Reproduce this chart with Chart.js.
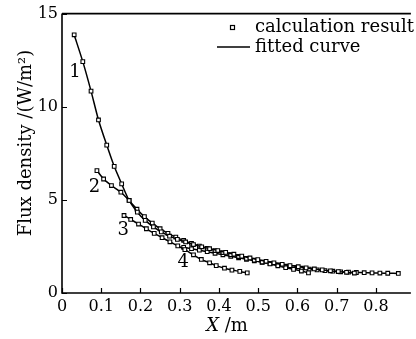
<!DOCTYPE html>
<html>
<head>
<meta charset="utf-8">
<script src="https://cdn.jsdelivr.net/npm/chart.js@4.4.0/dist/chart.umd.min.js"></script>
<style>
  html, body { margin: 0; padding: 0; background: #fff; overflow: hidden; }
  #wrap { width: 416px; height: 339px; }
</style>
</head>
<body>
<div id="wrap"><canvas id="fluxChart" width="416" height="339"></canvas></div>
<script>
// tick labels
const xTicks = [0, 0.1, 0.2, 0.3, 0.4, 0.5, 0.6, 0.7, 0.8];
const yTicks = [0, 5, 10, 15];

// curve 1
const curve1X = [0.031, 0.053, 0.074, 0.093, 0.114, 0.133, 0.152, 0.171, 0.192, 0.212, 0.233, 0.253, 0.274, 0.294,
                 0.315, 0.335, 0.356, 0.376, 0.397, 0.417, 0.438, 0.458, 0.479, 0.499, 0.520, 0.540, 0.561, 0.581,
                 0.602, 0.622, 0.643, 0.663, 0.684, 0.704, 0.725, 0.745];
const curve1Y = [13.86, 12.42, 10.84, 9.29, 7.94, 6.80, 5.86, 4.97, 4.34, 3.90, 3.55, 3.28, 3.05, 2.88,
                 2.74, 2.60, 2.48, 2.38, 2.28, 2.18, 2.08, 1.98, 1.88, 1.79, 1.70, 1.62, 1.54, 1.47,
                 1.41, 1.35, 1.29, 1.24, 1.19, 1.15, 1.11, 1.07];
// curve 2
const curve2X = [0.089, 0.106, 0.126, 0.150, 0.171, 0.191, 0.210, 0.230, 0.250, 0.270, 0.290, 0.310, 0.330, 0.350,
                 0.370, 0.390, 0.410, 0.430, 0.450, 0.470, 0.490, 0.510, 0.530, 0.550, 0.570, 0.590, 0.610, 0.628];
const curve2Y = [6.57, 6.12, 5.77, 5.41, 4.97, 4.50, 4.10, 3.75, 3.45, 3.20, 3.00, 2.82, 2.66, 2.52,
                 2.40, 2.28, 2.17, 2.06, 1.96, 1.86, 1.76, 1.66, 1.56, 1.46, 1.36, 1.27, 1.18, 1.08];
// curve 3
const curve3X = [0.158, 0.175, 0.195, 0.215, 0.235, 0.255, 0.275, 0.295, 0.313, 0.335, 0.355, 0.376, 0.393,
                 0.414, 0.433, 0.453, 0.472];
const curve3Y = [4.16, 3.95, 3.70, 3.45, 3.20, 2.97, 2.75, 2.53, 2.33, 2.05, 1.80, 1.62, 1.47,
                 1.33, 1.23, 1.16, 1.08];
// curve 4
const curve4X = [0.310, 0.330, 0.350, 0.370, 0.390, 0.410, 0.430, 0.450, 0.470, 0.490, 0.510, 0.530, 0.550, 0.570,
                 0.590, 0.610, 0.630, 0.650, 0.670, 0.690, 0.710, 0.730, 0.750, 0.770, 0.790, 0.810, 0.830, 0.857];
const curve4Y = [2.45, 2.38, 2.30, 2.22, 2.13, 2.05, 1.97, 1.89, 1.81, 1.73, 1.65, 1.58, 1.51, 1.44,
                 1.38, 1.33, 1.28, 1.24, 1.20, 1.17, 1.14, 1.12, 1.10, 1.09, 1.08, 1.07, 1.06, 1.05];

const curveNames = ['1', '2', '3', '4'];
const curveLabelX = [0.033, 0.083, 0.156, 0.309];
const curveLabelY = [11.85, 5.66, 3.36, 1.66];
const legendLabels = ['calculation result', 'fitted curve'];

const FONT = '"DejaVu Serif", "Liberation Serif", serif';

function toPoints(xs, ys) {
    return xs.map((x, i) => ({ x: x, y: ys[i] }));
}

function curveDataset(name, xs, ys) {
    return {
        label: name,
        data: toPoints(xs, ys),
        showLine: true,
        borderColor: '#000',
        borderWidth: 1.5,
        tension: 0.25,
        pointStyle: 'rect',
        pointRadius: 2.6,
        pointBorderWidth: 1.1,
        pointBackgroundColor: '#fff',
        pointBorderColor: '#000'
    };
}

// frame, inward ticks, axis titles, curve numbers and legend
const decorPlugin = {
    id: 'decor',
    afterDatasetsDraw(chart) {
        const ctx = chart.ctx;
        const area = chart.chartArea;
        const xs = chart.scales.x;
        const ys = chart.scales.y;
        ctx.save();
        ctx.strokeStyle = '#000';
        ctx.lineWidth = 1.6;
        ctx.beginPath();
        ctx.moveTo(area.left, area.top);
        ctx.lineTo(area.right, area.top);
        ctx.moveTo(area.left, area.top);
        ctx.lineTo(area.left, area.bottom);
        ctx.lineTo(area.right, area.bottom);
        ctx.stroke();

        ctx.lineWidth = 1.2;
        ctx.beginPath();
        xTicks.forEach(v => {
            const px = Math.round(xs.getPixelForValue(v)) + 0.5;
            ctx.moveTo(px, area.bottom);
            ctx.lineTo(px, area.bottom - 5);
        });
        yTicks.forEach(v => {
            const py = Math.round(ys.getPixelForValue(v)) + 0.5;
            ctx.moveTo(area.left, py);
            ctx.lineTo(area.left + 5, py);
        });
        ctx.stroke();

        ctx.fillStyle = '#000';
        ctx.textBaseline = 'middle';

        // curve numbers
        ctx.font = '18px ' + FONT;
        ctx.textAlign = 'center';
        curveNames.forEach((n, i) => {
            ctx.fillText(n, xs.getPixelForValue(curveLabelX[i]), ys.getPixelForValue(curveLabelY[i]));
        });

        // x title: italic X then /m
        ctx.textAlign = 'left';
        ctx.font = 'italic 18px ' + FONT;
        const xW = ctx.measureText('X').width;
        ctx.font = '18px ' + FONT;
        const mW = ctx.measureText(' /m').width;
        const sx = 227 - (xW + mW) / 2;
        ctx.font = 'italic 18px ' + FONT;
        ctx.fillText('X', sx, 326);
        ctx.font = '18px ' + FONT;
        ctx.fillText(' /m', sx + xW, 326);

        // y title
        ctx.save();
        ctx.translate(26, 143);
        ctx.rotate(-Math.PI / 2);
        ctx.textAlign = 'center';
        ctx.font = '18px ' + FONT;
        ctx.fillText('Flux density /(W/m\u00B2)', 0, 0);
        ctx.restore();

        // legend
        ctx.font = '18px ' + FONT;
        ctx.textAlign = 'left';
        ctx.lineWidth = 1.2;
        ctx.fillStyle = '#fff';
        ctx.fillRect(230, 25, 4, 4);
        ctx.strokeRect(230.5, 25.5, 4, 4);
        ctx.fillStyle = '#000';
        ctx.fillText(legendLabels[0], 255, 27);
        ctx.lineWidth = 1.6;
        ctx.beginPath();
        ctx.moveTo(217, 47);
        ctx.lineTo(250, 47);
        ctx.stroke();
        ctx.fillText(legendLabels[1], 255, 47);
        ctx.restore();
    }
};

new Chart(document.getElementById('fluxChart').getContext('2d'), {
    type: 'scatter',
    data: {
        datasets: [
            curveDataset(curveNames[0], curve1X, curve1Y),
            curveDataset(curveNames[1], curve2X, curve2Y),
            curveDataset(curveNames[2], curve3X, curve3Y),
            curveDataset(curveNames[3], curve4X, curve4Y)
        ]
    },
    options: {
        responsive: false,
        devicePixelRatio: 1,
        animation: false,
        layout: { padding: { top: 12, left: 0, right: 0, bottom: 0 } },
        plugins: {
            legend: { display: false },
            tooltip: { enabled: false }
        },
        scales: {
            x: {
                type: 'linear',
                min: 0,
                max: 0.889,
                grid: { display: false, drawTicks: false },
                border: { display: false },
                afterBuildTicks: (scale) => { scale.ticks = xTicks.map(v => ({ value: v })); },
                afterFit: (scale) => { scale.height = 46; },
                ticks: {
                    color: '#000',
                    font: { family: FONT, size: 16 },
                    padding: 4,
                    maxRotation: 0,
                    autoSkip: false,
                    callback: (v) => String(v)
                }
            },
            y: {
                min: 0,
                max: 15,
                grid: { display: false, drawTicks: false },
                border: { display: false },
                afterBuildTicks: (scale) => { scale.ticks = yTicks.map(v => ({ value: v })); },
                afterFit: (scale) => { scale.width = 62; },
                ticks: {
                    color: '#000',
                    font: { family: FONT, size: 16 },
                    padding: 4,
                    callback: (v) => String(v)
                }
            }
        }
    },
    plugins: [decorPlugin]
});
</script>
</body>
</html>
